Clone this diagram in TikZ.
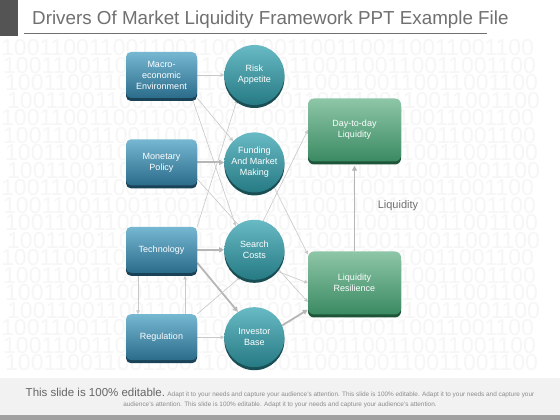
\documentclass[tikz,border=0pt]{standalone}
\usepackage{fontspec}
\setmainfont{Liberation Sans}
\usepackage{xcolor}
\usepackage{tikz}
\usetikzlibrary{arrows.meta, positioning, shadows, backgrounds}

\definecolor{boxtop}{RGB}{118,183,210}
\definecolor{boxbot}{RGB}{42,108,138}
\definecolor{boxrim}{RGB}{26,66,86}
\definecolor{roundtop}{RGB}{104,186,196}
\definecolor{roundbot}{RGB}{38,122,132}
\definecolor{roundrim}{RGB}{24,78,84}
\definecolor{liqtop}{RGB}{142,198,168}
\definecolor{liqbot}{RGB}{58,138,98}
\definecolor{liqrim}{RGB}{30,84,56}
\definecolor{linkgray}{RGB}{200,200,200}
\definecolor{boldgray}{RGB}{182,182,182}
\definecolor{titlegray}{RGB}{112,112,112}
\definecolor{digitgray}{RGB}{246,246,246}

\begin{document}
\begin{tikzpicture}[
  x=1pt, y=1pt,
  node distance=41pt and 27pt,
  driver/.style={rectangle, rounded corners=5pt, top color=boxtop, bottom color=boxbot, minimum width=71pt, minimum height=46pt, inner sep=1pt, align=center, text=white, font=\fontsize{9}{11}\selectfont, drop shadow={shadow xshift=0pt, shadow yshift=-3pt, fill=boxrim, opacity=1}},
  channel/.style={circle, top color=roundtop, bottom color=roundbot, minimum size=60pt, inner sep=0pt, align=center, text=white, font=\fontsize{9}{11}\selectfont, drop shadow={shadow xshift=0pt, shadow yshift=-3pt, fill=roundrim, opacity=1}},
  outcome/.style={rectangle, rounded corners=6pt, top color=liqtop, bottom color=liqbot, minimum width=93pt, minimum height=63pt, align=center, text=white, font=\fontsize{9}{11}\selectfont, drop shadow={shadow xshift=0pt, shadow yshift=-3pt, fill=liqrim, opacity=1}},
  link/.style={draw=linkgray, line width=0.6pt, -{Triangle[length=3.5pt, width=3.5pt]}},
  boldlink/.style={draw=boldgray, line width=1.8pt, -{Triangle[length=5pt, width=5pt]}}
]
\useasboundingbox (0,0) rectangle (560,420);

% Backdrop, title and footer
\begin{pgfonlayer}{background}
  \fill[white] (0,0) rectangle (560,420);
  \foreach \r in {0,...,18}
    \node[anchor=base west, inner sep=0pt, text=digitgray, font=\fontsize{23}{23}\selectfont] (row\r) at ({1+2*mod(\r,4)}, {364-17.5*\r}) {1001100110011001100110011001100110011001100};
  \fill[black!67] (0,384) rectangle (18,420);
  \draw[titlegray, line width=1pt] (24,386) -- (487,386);
  \node[anchor=base west, inner sep=0pt, text=titlegray, font=\fontsize{18.8}{22}\selectfont] (title) at (32,395) {Drivers Of Market Liquidity Framework PPT Example File};
  \fill[black!5] (0,5) rectangle (560,42);
  \fill[black!37] (0,0) rectangle (560,5);
  \node[align=center, text=black!45, font=\fontsize{6.4}{10}\selectfont] (footer) at (280,22)
    {{\fontsize{11.5}{12}\selectfont\color{black!60}This slide is 100\% editable.} Adapt it to your needs and capture your audience's attention. This slide is 100\% editable. Adapt it to your needs and capture your\\audience's attention. This slide is 100\% editable. Adapt it to your needs and capture your audience's attention.};
\end{pgfonlayer}

% Nodes
\node[driver] (macro) at (161.5,345) {Macro-\\economic\\Environment};
\node[driver, below=of macro] (monetary) {Monetary\\Policy};
\node[driver, below=of monetary] (technology) {Technology};
\node[driver, below=of technology] (regulation) {Regulation};

\node[channel, right=of macro] (risk) {Risk\\Appetite};
\node[channel, right=of monetary] (funding) {Funding\\And Market\\Making};
\node[channel, right=of technology] (search) {Search\\Costs};
\node[channel, right=of regulation] (investor) {Investor\\Base};

\node[outcome] (daily) at (354.5,290) {Day-to-day\\Liquidity};
\node[outcome] (resilience) at (354.5,137) {Liquidity\\Resilience};
\node[text=titlegray, font=\fontsize{11}{13}\selectfont] (liqlabel) at (398,214) {Liquidity};

% Arrows
\begin{pgfonlayer}{background}
  \draw[link] (macro) -- (risk);
  \draw[link] (macro.south east) -- (funding.135);
  \draw[link] ([xshift=-5pt]macro.south east) -- (search.128);
  \draw[boldlink] (monetary) -- (funding);
  \draw[link] (monetary.-25) -- ([yshift=-19pt]resilience.west);
  \draw[link] (technology.north east) -- (risk.235);
  \draw[boldlink] (technology) -- (search);
  \draw[boldlink] (technology.-20) -- (investor.123);
  \draw[link] ([xshift=-23.5pt]technology.south) -- ([xshift=-23.5pt]regulation.north);
  \draw[link, shorten >=3pt] ([xshift=23.5pt]regulation.north) -- ([xshift=23.5pt]technology.south);
  \draw[link] (regulation.north east) -- (search.243);
  \draw[link] (regulation) -- (investor);
  \draw[link] (funding.-51) -- ([yshift=-3pt]resilience.north west);
  \draw[link] (search.73) -- (daily.west);
  \draw[link] (search.-44) -- (resilience.west);
  \draw[boldlink] (investor.23) -- ([yshift=5pt]resilience.south west);
  \draw[boldlink, shorten >=4pt] (resilience) -- (daily);
\end{pgfonlayer}

\end{tikzpicture}
\end{document}
